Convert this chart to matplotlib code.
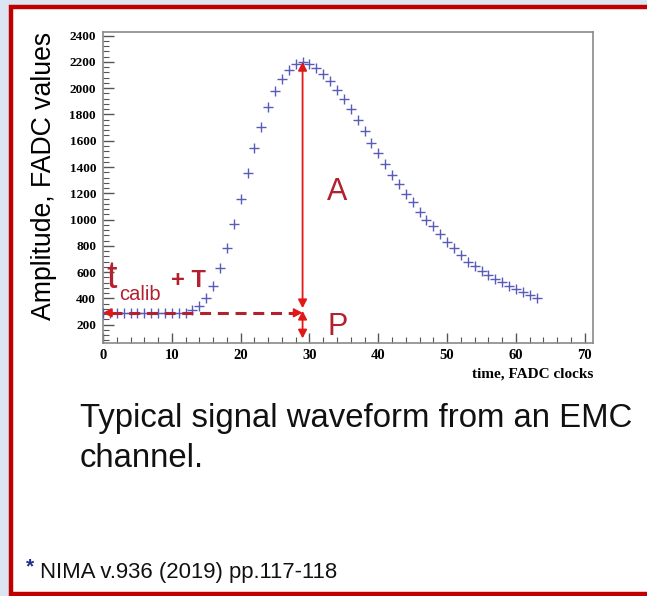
import numpy as np
import matplotlib
matplotlib.use("Agg")
import matplotlib.pyplot as plt
from matplotlib.patches import Rectangle, FancyArrowPatch
from matplotlib.ticker import MultipleLocator

# FADC samples of one EMC channel
clock = list(range(0, 64))
amplitude = [
    290, 290, 290, 290, 290, 290, 290, 290, 290, 290,
    290, 290, 292, 310, 342, 405, 494, 630, 784, 968,
    1158, 1353, 1541, 1707, 1859, 1978, 2072, 2137, 2185, 2200,
    2185, 2155, 2112, 2054, 1990, 1915, 1840, 1755, 1675, 1585,
    1505, 1420, 1340, 1270, 1195, 1130, 1060, 1000, 950, 890,
    830, 785, 730, 680, 645, 610, 578, 548, 522, 497,
    470, 445, 422, 400,
]
x_ticks = [0, 10, 20, 30, 40, 50, 60, 70]
y_ticks = [200, 400, 600, 800, 1000, 1200, 1400, 1600, 1800, 2000, 2200, 2400]

W, H = 647, 596
fig = plt.figure(figsize=(W / 100, H / 100), dpi=100)
fig.patch.set_facecolor("#dce6f2")


def fx(px):
    return px / W


def fy(py):
    return 1 - py / H


# white slide panel with red border
fig.patches.append(Rectangle((fx(11), fy(594)), fx(700) - fx(11), fy(7) - fy(594),
                             transform=fig.transFigure, facecolor="white",
                             edgecolor="#c00000", linewidth=3.2, zorder=-5))

ax = fig.add_axes([fx(103), fy(343), fx(593) - fx(103), fy(32) - fy(343)])
ax.set_zorder(2)
ax.set_xlim(0, 71.2)
ax.set_ylim(60, 2428)

t = np.array(clock)
a = np.array(amplitude)
ax.plot(t, a, linestyle="none", marker="+", markersize=7.5, markeredgewidth=1.0,
        color="#5a5ab8", zorder=3)

serif_bold = dict(family="Liberation Serif", weight="bold")
ax.set_xticks(x_ticks)
ax.set_yticks(y_ticks)
ax.set_xticklabels([str(v) for v in x_ticks], fontsize=10.5, **serif_bold)
ax.set_yticklabels([str(v) for v in y_ticks], fontsize=9.5, **serif_bold)
ax.xaxis.set_minor_locator(MultipleLocator(2))
ax.yaxis.set_minor_locator(MultipleLocator(40))
ax.tick_params(which="both", direction="in", color="#555555", top=False, right=False)
ax.tick_params(axis="y", which="major", length=8, width=1, pad=5)
ax.tick_params(axis="y", which="minor", length=4, width=0.8)
ax.tick_params(axis="x", which="major", length=7, width=1, pad=4)
ax.tick_params(axis="x", which="minor", length=4, width=0.8)
for s in ax.spines.values():
    s.set_color("#8a8a8a")
    s.set_linewidth(1.2)

ax.set_xlabel("time, FADC clocks", fontsize=11, **serif_bold)
ax.xaxis.set_label_coords(1.0, -0.08)
ax.xaxis.label.set_horizontalalignment("right")
ax.set_ylabel("Amplitude, FADC values", family="Liberation Sans", fontsize=19.2)
ax.yaxis.set_label_coords(-0.094, 0.537)

# amplitude / pedestal annotations derived from the samples
pedestal = float(np.mean(a[:12]))
i_peak = int(np.argmax(a))
t_peak = t[i_peak]
peak = a[i_peak]
red = "#e01818"
dark_red = "#b3202e"

ax.add_patch(FancyArrowPatch((t_peak, pedestal + 35), (t_peak, peak),
                             arrowstyle="<|-|>,head_length=5,head_width=2.6",
                             color=red, linewidth=1.3, shrinkA=0, shrinkB=0, zorder=4))
ax.add_patch(FancyArrowPatch((t_peak, pedestal + 15), (t_peak, 95),
                             arrowstyle="<|-|>,head_length=5,head_width=2.6",
                             color=red, linewidth=1.3, shrinkA=0, shrinkB=0, zorder=4))
ax.plot([1.2, t_peak - 1.2], [pedestal, pedestal], color=dark_red, linewidth=2.2,
        linestyle=(0, (3.6, 2.2)), zorder=4, solid_capstyle="butt")
for tip, base in ((0.0, 1.5), (t_peak, t_peak - 1.5)):
    ax.add_patch(FancyArrowPatch((base, pedestal), (tip, pedestal),
                                 arrowstyle="-|>,head_length=5,head_width=2.6",
                                 color=red, linewidth=1.3, shrinkA=0, shrinkB=0, zorder=4))

ax.text(32.6, 1150, "A", family="Liberation Sans", fontsize=22, color=dark_red,
        ha="left", va="baseline")
ax.text(32.6, 124, "P", family="Liberation Sans", fontsize=22, color=dark_red,
        ha="left", va="baseline")
ax.text(0.5, 481, "t", family="Liberation Sans", fontsize=27, color=dark_red,
        ha="left", va="baseline")
ax.text(2.4, 390, "calib", family="Liberation Sans", fontsize=14.5, color=dark_red,
        ha="left", va="baseline")
ax.text(9.9, 489, "+ T", family="Liberation Sans", fontsize=17, color=dark_red,
        ha="left", va="baseline", weight="bold")

# caption and reference
fig.text(fx(80), fy(427), "Typical signal waveform from an EMC", family="Liberation Sans",
         fontsize=23.7, color="#111111", ha="left", va="baseline")
fig.text(fx(80), fy(467), "channel.", family="Liberation Sans",
         fontsize=23.7, color="#111111", ha="left", va="baseline")
fig.text(fx(26), fy(572), "*", family="Liberation Sans", fontsize=15,
         color="#1f2f8f", ha="left", va="baseline", weight="bold")
fig.text(fx(40), fy(578), "NIMA v.936 (2019) pp.117-118", family="Liberation Sans",
         fontsize=15.9, color="#111111", ha="left", va="baseline")

fig.savefig("out.png", dpi=100)
